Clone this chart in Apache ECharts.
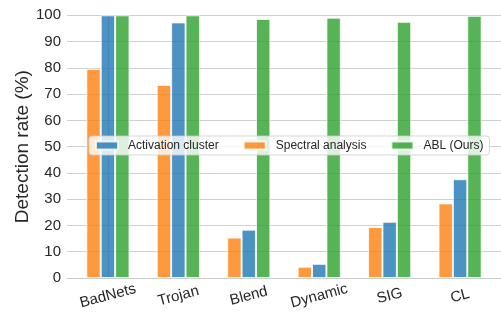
<!DOCTYPE html>
<html>
<head>
<meta charset="utf-8">
<script src="https://cdn.jsdelivr.net/npm/echarts@6/dist/echarts.min.js"></script>
<style>
  html, body { margin: 0; padding: 0; background: #ffffff; }
  #chart { width: 501px; height: 316px; }
</style>
</head>
<body>
<div id="chart"></div>
<script>
const categories = ['BadNets', 'Trojan', 'Blend', 'Dynamic', 'SIG', 'CL'];
const spectralAnalysis = [79.6, 73.5, 15.4, 4.3, 19.4, 28.4];
const activationCluster = [100, 97.3, 18.4, 5.4, 21.4, 37.6];
const ablOurs = [100, 100, 98.6, 99.1, 97.5, 99.8];
const yTicks = [0, 10, 20, 30, 40, 50, 60, 70, 80, 90, 100];

const font = 'Liberation Sans, Arial, sans-serif';
const textColor = '#262626';
const gridColor = '#d0d0d0';

const chart = echarts.init(document.getElementById('chart'), null, { renderer: 'canvas' });

// bars sit on a value axis so the groups land where matplotlib put them
const toPoints = arr => arr.map((v, i) => [i, v]);

const barSeries = (name, data, color) => ({
    name: name,
    type: 'bar',
    data: toPoints(data),
    barWidth: 14.4,
    barGap: 0,
    itemStyle: {
        color: color,
        opacity: 0.8,
        borderColor: '#ffffff',
        borderWidth: 1
    },
    emphasis: { disabled: true }
});

const option = {
    animation: false,
    textStyle: { fontFamily: font },
    grid: {
        left: 67,
        top: 15.3,
        bottom: 38,
        right: -9,
        containLabel: false
    },
    legend: {
        data: ['Activation cluster', 'Spectral analysis', 'ABL (Ours)'],
        left: 89,
        top: 136,
        orient: 'horizontal',
        icon: 'rect',
        itemWidth: 22,
        itemHeight: 8,
        itemGap: 24,
        padding: [3.5, 6],
        backgroundColor: 'rgba(255,255,255,0.8)',
        borderColor: 'rgba(204,204,204,0.8)',
        borderWidth: 1,
        borderRadius: 3,
        textStyle: {
            fontFamily: font,
            fontSize: 12,
            color: textColor,
            padding: [0, 0, 0, 5]
        }
    },
    xAxis: {
        type: 'value',
        min: -0.581,
        max: 5.581,
        splitLine: { show: false },
        axisTick: { show: false },
        axisLine: { show: true, lineStyle: { color: '#cccccc', width: 1.2 } },
        axisLabel: {
            customValues: categories.map((c, i) => i),
            formatter: v => categories[Math.round(v)],
            rotate: 15,
            align: 'center',
            verticalAlign: 'middle',
            margin: 18,
            fontFamily: font,
            fontSize: 15,
            color: textColor
        }
    },
    yAxis: {
        type: 'value',
        min: 0,
        max: 100,
        interval: 10,
        name: 'Detection rate (%)',
        nameLocation: 'middle',
        nameGap: 35,
        nameMoveOverlap: false,
        nameRotate: 90,
        nameTextStyle: { fontFamily: font, fontSize: 19, color: textColor },
        axisLine: { show: true, lineStyle: { color: '#cccccc', width: 1.2 } },
        axisTick: { show: false },
        axisLabel: {
            customValues: yTicks,
            margin: 6,
            fontFamily: font,
            fontSize: 15,
            color: textColor
        },
        splitLine: { show: true, lineStyle: { color: gridColor, width: 1 } }
    },
    series: [
        barSeries('Spectral analysis', spectralAnalysis, '#ff7f0e'),
        barSeries('Activation cluster', activationCluster, '#1f77b4'),
        barSeries('ABL (Ours)', ablOurs, '#2ca02c')
    ]
};

chart.setOption(option);
</script>
</body>
</html>
